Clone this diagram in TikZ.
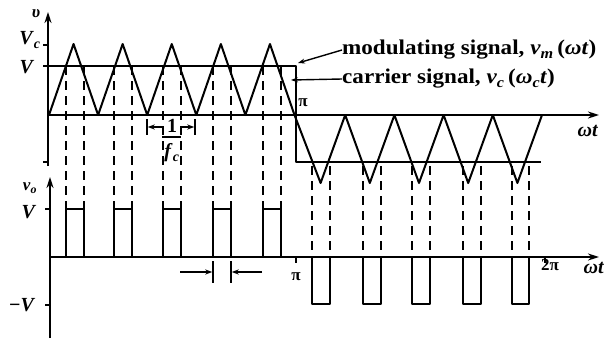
\documentclass[tikz,border=0pt]{standalone}
\usepackage{fontspec}
\setmainfont{Liberation Serif}
\newfontfamily\widefont[FakeStretch=1.1]{Liberation Serif}
\usetikzlibrary{arrows.meta}
\begin{document}
\begin{tikzpicture}[x=1pt,y=-1pt, line join=round,
  sig/.style={line width=2pt},
  ax/.style={line width=1.8pt},
  axarr/.style={ax,-{Stealth[length=11pt,width=7pt]}},
  dsh/.style={line width=1.6pt, dash pattern=on 9pt off 6pt},
  lbl/.style={font=\fontsize{20}{22}\selectfont\bfseries, inner sep=0pt},
  wlbl/.style={font=\widefont\fontsize{21}{24}\selectfont\bfseries, inner sep=0pt},
  slbl/.style={font=\fontsize{17}{20}\selectfont\bfseries, inner sep=0pt},
  parr/.style={line width=1.4pt,-{Stealth[length=7pt,width=5pt]}},
]
\useasboundingbox (0,0) rectangle (605,340);
% ---------- upper graph axes
\draw[axarr] (48,166) -- (48,12);
\draw[axarr] (48,115) -- (599,115);
\draw[ax] (43,45) -- (48,45);
\draw[ax] (43,66) -- (48,66);
\draw[ax] (43,162) -- (48,162);
% modulating signal
\draw[sig] (48,66) -- (296,66) -- (296,162) -- (541,162);
% carrier
\draw[sig] (49,115)
  \foreach \k in {0,...,4} { -- ({73.55+49.1*\k},44) -- ({98.1+49.1*\k},115) }
  \foreach \k in {0,...,4} { -- ({320.6+49.2*\k},183) -- ({345.2+49.2*\k},115) };
% dashed projection lines
\foreach \a/\b in {66/84,114/132,163/181,213/231,263/281}{
  \draw[dsh] (\a,66) -- (\a,209);
  \draw[dsh] (\b,66) -- (\b,209);
}
\foreach \a/\b in {312/330,363/381,412/430,463/481,512/529}{
  \draw[dsh] (\a,166) -- (\a,257);
  \draw[dsh] (\b,166) -- (\b,257);
}
% ---------- lower graph axes
\draw[axarr] (50,338) -- (50,177);
\draw[axarr] (50,257) -- (599,257);
\draw[ax] (45,209) -- (50,209);
\draw[ax] (45,305) -- (50,305);
\draw[ax] (296,257) -- (296,263);
\draw[ax] (545,257) -- (545,263);
% output pulses
\draw[sig] (50,257)
  \foreach \a/\b in {66/84,114/132,163/181,213/231,263/281}{ -- (\a,257) -- (\a,209) -- (\b,209) -- (\b,257) }
  \foreach \a/\b in {312/330,363/381,412/430,463/481,512/529}{ -- (\a,257) -- (\a,304) -- (\b,304) -- (\b,257) };
% ---------- 1/fc annotation
\draw[line width=1.4pt] (147,119) -- (147,135);
\draw[line width=1.4pt] (195,119) -- (195,135);
\draw[parr] (162,127) -- (147.7,127);
\draw[parr] (182,127) -- (194.3,127);
\node[lbl] (one) at (172,126) {1};
\draw[line width=1.4pt] (162,137) -- (181,137);
\node[lbl] (fc) at (172,153) {\textit{f}\textsubscript{\textit{c}}};
% pulse width arrows
\draw[line width=1.4pt] (213,261) -- (213,283);
\draw[line width=1.4pt] (231,261) -- (231,283);
\draw[parr] (180,272) -- (212.3,272);
\draw[parr] (262,272) -- (231.7,272);
% ---------- labels
\node[slbl] (v) at (36,14) {\textit{υ}};
\node[lbl] (Vc) at (30,40) {\textit{V}\textsubscript{\textit{c}}};
\node[lbl] (V1) at (27,67) {\textit{V}};
\node[slbl] (vo) at (30,188) {\textit{v}\textsubscript{\textit{o}}};
\node[lbl] (V2) at (29,212) {\textit{V}};
\node[lbl] (mV) at (22,305) {\textit{−V}};
\node[slbl] (pi1) at (303,103) {π};
\node[slbl] (pi2) at (296,277) {π};
\node[slbl] (pi3) at (550,265) {2π};
\node[lbl] (wt1) at (588,131) {\textit{ωt}};
\node[lbl] (wt2) at (594,268) {\textit{ωt}};
\node[wlbl, anchor=west] (mod) at (342,50) {modulating signal, \textit{v}\textsubscript{\textit{m}}\,(\textit{ωt})};
\node[wlbl, anchor=west] (car) at (342,79) {carrier signal, \textit{v}\textsubscript{\textit{c}}\,(\textit{ω}\textsubscript{\textit{c}}\textit{t})};
\coordinate (mtip) at (298,63);
\coordinate (ctip) at (291,80);
\draw[parr] (mod.west) -- (mtip);
\draw[parr] (car.west) -- (ctip);
\end{tikzpicture}
\end{document}
